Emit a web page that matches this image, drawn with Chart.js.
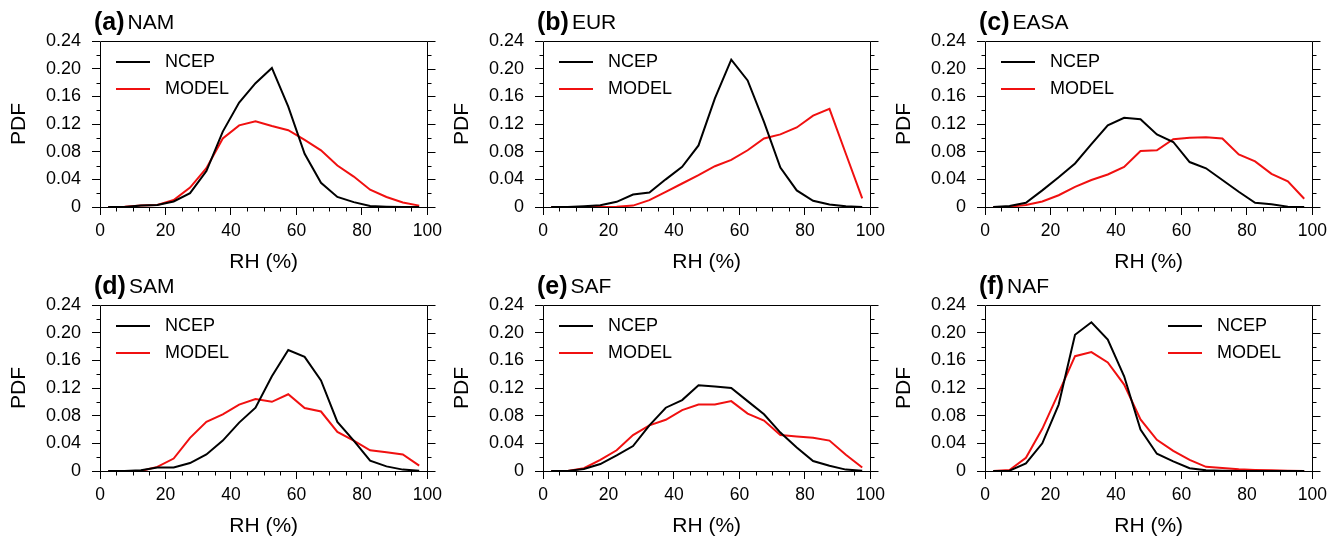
<!DOCTYPE html>
<html>
<head>
<meta charset="utf-8">
<script src="https://cdn.jsdelivr.net/npm/chart.js@4.4.1/dist/chart.umd.min.js"></script>
<style>
  body { margin: 0; background: #fff; width: 1344px; height: 541px; overflow: hidden; position: relative; }
  canvas { position: absolute; }
</style>
</head>
<body>
<canvas id="a" width="448" height="280" style="left:0px;top:0px"></canvas>
<canvas id="b" width="448" height="280" style="left:443px;top:0px"></canvas>
<canvas id="c" width="448" height="280" style="left:885px;top:0px"></canvas>
<canvas id="d" width="448" height="280" style="left:0px;top:264px"></canvas>
<canvas id="e" width="448" height="280" style="left:443px;top:264px"></canvas>
<canvas id="f" width="448" height="280" style="left:885px;top:264px"></canvas>
<script>
// RH bin centres (%)
const rhBins = [2.5, 7.5, 12.5, 17.5, 22.5, 27.5, 32.5, 37.5, 42.5, 47.5,
                52.5, 57.5, 62.5, 67.5, 72.5, 77.5, 82.5, 87.5, 92.5, 97.5];
const xTickValues = [0, 20, 40, 60, 80, 100];
const yTickValues = [0, 0.04, 0.08, 0.12, 0.16, 0.20, 0.24];

const namNcep  = [0, 0, 0.002, 0.003, 0.008, 0.020, 0.052, 0.109, 0.151, 0.179, 0.201, 0.145, 0.077, 0.035, 0.0145, 0.007, 0.0015, 0.0005, 0, 0];
const namModel = [0, 0.0005, 0.002, 0.003, 0.010, 0.028, 0.056, 0.099, 0.118, 0.124, 0.117, 0.111, 0.097, 0.082, 0.060, 0.044, 0.025, 0.0145, 0.0065, 0.002];

const eurNcep  = [0, 0, 0.001, 0.0025, 0.0075, 0.018, 0.021, 0.040, 0.058, 0.089, 0.157, 0.213, 0.183, 0.123, 0.057, 0.024, 0.009, 0.0035, 0.001, 0];
const eurModel = [0, 0, 0, 0, 0.0005, 0.002, 0.010, 0.022, 0.034, 0.046, 0.059, 0.068, 0.082, 0.099, 0.105, 0.115, 0.132, 0.142, 0.077, 0.0125];

const easaNcep  = [0, 0.0015, 0.006, 0.024, 0.043, 0.063, 0.091, 0.118, 0.129, 0.127, 0.105, 0.094, 0.065, 0.056, 0.039, 0.022, 0.006, 0.004, 0.0005, 0];
const easaModel = [0, 0.0005, 0.003, 0.008, 0.017, 0.029, 0.039, 0.047, 0.058, 0.081, 0.082, 0.098, 0.100, 0.101, 0.099, 0.076, 0.066, 0.048, 0.037, 0.012];

const samNcep  = [0, 0, 0.001, 0.005, 0.005, 0.0115, 0.024, 0.044, 0.070, 0.0915, 0.137, 0.175, 0.165, 0.131, 0.071, 0.044, 0.015, 0.0067, 0.002, 0.0005];
const samModel = [0, 0, 0, 0.006, 0.018, 0.048, 0.071, 0.082, 0.096, 0.104, 0.100, 0.111, 0.091, 0.086, 0.0565, 0.044, 0.030, 0.027, 0.024, 0.0077];

const safNcep  = [0, 0, 0.003, 0.010, 0.0225, 0.036, 0.066, 0.0915, 0.1025, 0.124, 0.122, 0.120, 0.101, 0.082, 0.0556, 0.034, 0.0144, 0.0077, 0.002, 0.0005];
const safModel = [0, 0, 0.004, 0.016, 0.030, 0.052, 0.066, 0.074, 0.088, 0.096, 0.096, 0.101, 0.083, 0.073, 0.052, 0.050, 0.048, 0.044, 0.0235, 0.005];

const nafNcep  = [0, 0.0005, 0.011, 0.040, 0.096, 0.197, 0.215, 0.190, 0.137, 0.060, 0.025, 0.014, 0.004, 0.001, 0.0005, 0, 0, 0, 0, 0];
const nafModel = [0, 0.0015, 0.019, 0.061, 0.113, 0.166, 0.172, 0.157, 0.125, 0.0745, 0.045, 0.029, 0.016, 0.006, 0.0045, 0.0025, 0.0015, 0.001, 0.0005, 0];

const panels = [
  { id: "a", tag: "(a)", region: "NAM",  ncep: namNcep,  model: namModel },
  { id: "b", tag: "(b)", region: "EUR",  ncep: eurNcep,  model: eurModel },
  { id: "c", tag: "(c)", region: "EASA", ncep: easaNcep, model: easaModel },
  { id: "d", tag: "(d)", region: "SAM",  ncep: samNcep,  model: samModel },
  { id: "e", tag: "(e)", region: "SAF",  ncep: safNcep,  model: safModel },
  { id: "f", tag: "(f)", region: "NAF",  ncep: nafNcep,  model: nafModel, legendRight: true },
];

const FONT = "'Liberation Sans', Arial, Helvetica, sans-serif";
const RED = "#f01010";

const pts = (arr) => rhBins.map((x, i) => ({ x: x, y: arr[i] }));
const px = (v) => Math.round(v) + 0.5;

// frame, minor ticks, right-side ticks, panel title and legend (NCL look)
const nclDecor = {
  id: "nclDecor",
  afterDraw(chart, args, opts) {
    const ctx = chart.ctx;
    const { left, right, top, bottom } = chart.chartArea;
    const xs = chart.scales.x, ys = chart.scales.y;
    ctx.save();
    ctx.strokeStyle = "#000";
    ctx.lineWidth = 1;
    ctx.beginPath();
    ctx.rect(px(left), px(top), Math.round(right) - Math.round(left), Math.round(bottom) - Math.round(top));
    // x minor ticks every 5
    for (let v = 5; v < 100; v += 5) {
      if (v % 20 === 0) continue;
      const x = px(xs.getPixelForValue(v));
      ctx.moveTo(x, px(bottom)); ctx.lineTo(x, px(bottom) + 4);
    }
    // y ticks every 0.02 (left minor, right major+minor)
    for (let k = 0; k <= 12; k++) {
      const y = px(ys.getPixelForValue(k * 0.02));
      const major = k % 2 === 0;
      if (!major) { ctx.moveTo(px(left), y); ctx.lineTo(px(left) - 4, y); }
      ctx.moveTo(px(right), y); ctx.lineTo(px(right) + (major ? 8 : 4), y);
    }
    ctx.stroke();

    // panel title
    ctx.fillStyle = "#000";
    ctx.textBaseline = "middle";
    ctx.textAlign = "left";
    ctx.font = "bold 25px " + FONT;
    ctx.fillText(opts.tag, left - 6, top - 18);
    const w = ctx.measureText(opts.tag).width;
    ctx.font = "21px " + FONT;
    ctx.fillText(opts.region, left - 6 + w + 3, top - 18);

    // legend
    const lx = opts.legendRight ? left + 183 : left + 16;
    ctx.font = "18px " + FONT;
    chart.data.datasets.forEach((ds, i) => {
      const y = top + 21 + i * 27;
      ctx.strokeStyle = ds.borderColor;
      ctx.lineWidth = 2;
      ctx.beginPath();
      ctx.moveTo(lx, y); ctx.lineTo(lx + 34, y);
      ctx.stroke();
      ctx.fillText(ds.label, lx + 49, y);
    });
    ctx.restore();
  }
};

function drawPanel(p) {
  const ctx = document.getElementById(p.id).getContext("2d");
  return new Chart(ctx, {
    type: "line",
    data: {
      datasets: [
        { label: "NCEP",  data: pts(p.ncep),  borderColor: "#000", borderWidth: 2, pointRadius: 0, tension: 0, fill: false },
        { label: "MODEL", data: pts(p.model), borderColor: RED,    borderWidth: 2, pointRadius: 0, tension: 0, fill: false },
      ],
    },
    options: {
      responsive: false,
      animation: false,
      layout: { padding: { left: 0, right: 16, top: 41, bottom: 0 } },
      scales: {
        x: {
          type: "linear",
          min: 0, max: 100,
          afterFit: (s) => { s.height = 73; },
          afterBuildTicks: (s) => { s.ticks = xTickValues.map(v => ({ value: v })); },
          ticks: { color: "#000", font: { family: FONT, size: 17.5 }, padding: 6, maxRotation: 0, autoSkip: false },
          grid: { drawOnChartArea: false, drawTicks: true, tickLength: 8, color: "#000", lineWidth: 1 },
          border: { display: false },
          title: { display: true, text: "RH (%)", color: "#000", font: { family: FONT, size: 21 }, padding: { top: 0, bottom: 5 } },
        },
        y: {
          min: 0, max: 0.24,
          afterFit: (s) => { s.width = 100; },
          afterBuildTicks: (s) => { s.ticks = yTickValues.map(v => ({ value: v })); },
          ticks: {
            color: "#000", font: { family: FONT, size: 18 }, padding: 11, autoSkip: false,
            callback: (v) => (v === 0 ? "0" : v.toFixed(2)),
          },
          grid: { drawOnChartArea: false, drawTicks: true, tickLength: 8, color: "#000", lineWidth: 1 },
          border: { display: false },
          title: { display: true, text: "PDF", color: "#000", font: { family: FONT, size: 21 }, padding: { top: 7, bottom: 0 } },
        },
      },
      plugins: {
        legend: { display: false },
        tooltip: { enabled: false },
        nclDecor: { tag: p.tag, region: p.region, legendRight: !!p.legendRight },
      },
    },
    plugins: [nclDecor],
  });
}

panels.forEach(drawPanel);
</script>
</body>
</html>
